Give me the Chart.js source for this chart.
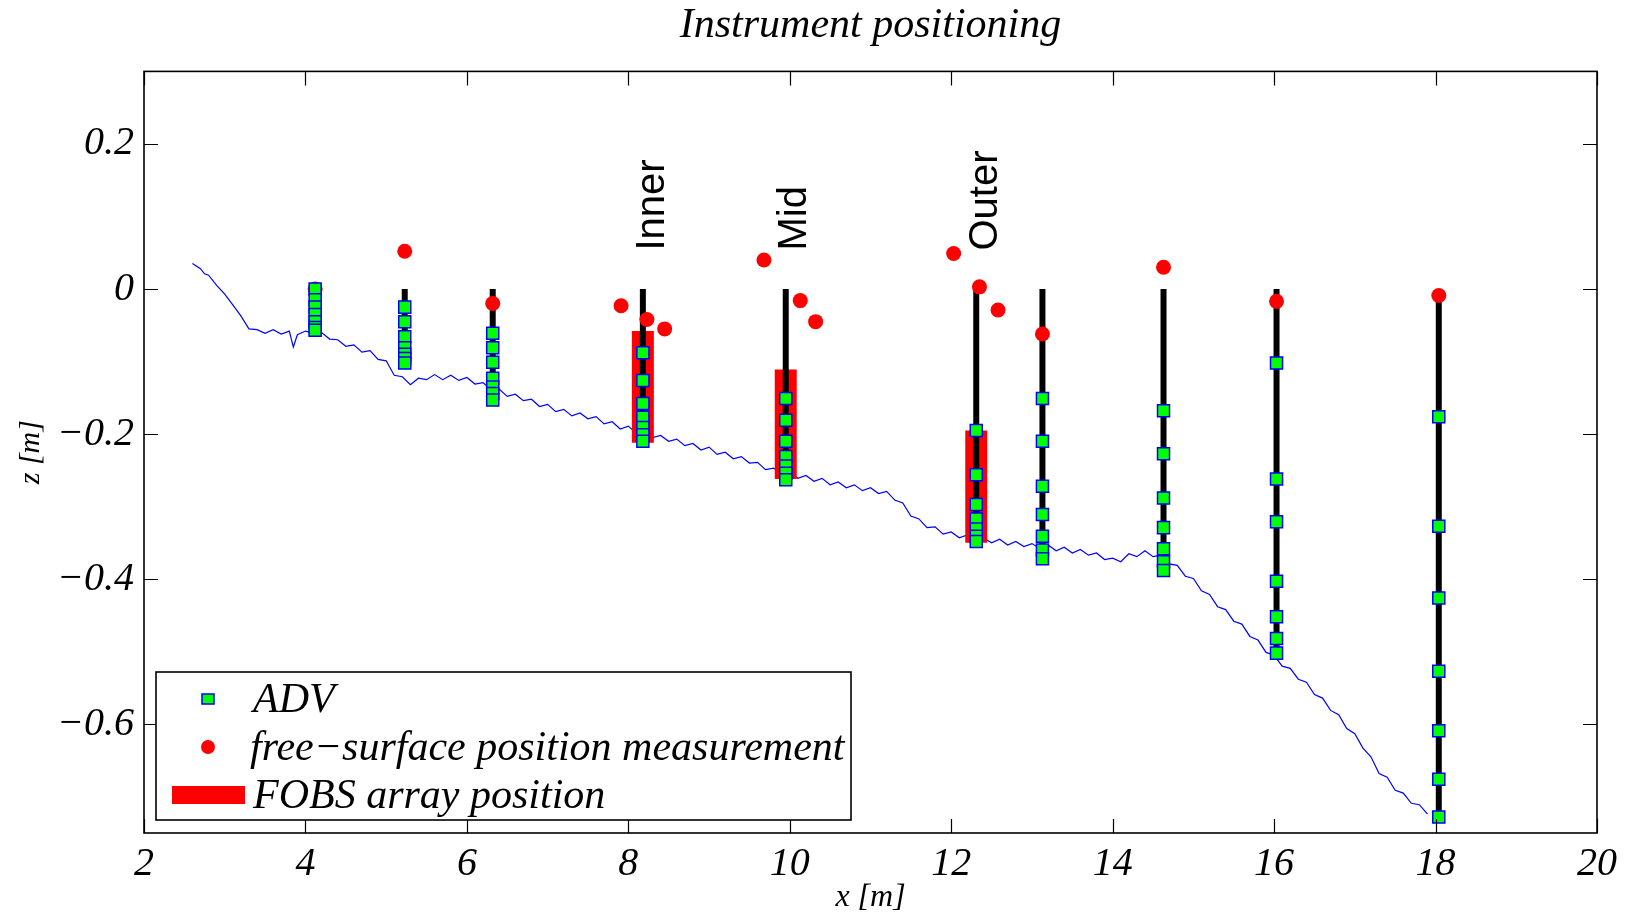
<!DOCTYPE html>
<html>
<head>
<meta charset="utf-8">
<title>Instrument positioning</title>
<script src="https://cdn.jsdelivr.net/npm/chart.js@4.4.1/dist/chart.umd.min.js"></script>
<style>
  html, body { margin: 0; padding: 0; background: #fff; }
  #wrap { width: 1633px; height: 918px; }
</style>
</head>
<body>
<div id="wrap"><canvas id="chart" width="1633" height="918"></canvas></div>
<script>
// Tick labels
const xTicks = [2, 4, 6, 8, 10, 12, 14, 16, 18, 20];
const yTicks = [0.2, 0, -0.2, -0.4, -0.6];

// Instrument stations (x [m]) and ADV heights (z [m]) at each one
const stationX = [4.12, 5.23, 6.32, 8.18, 9.95, 12.31, 13.13, 14.63, 16.03, 18.04];
const advZ = [
    [0.000, -0.015, -0.025, -0.035, -0.045, -0.053, -0.057],
    [-0.025, -0.045, -0.066, -0.081, -0.090, -0.096, -0.102],
    [-0.061, -0.081, -0.101, -0.123, -0.135, -0.144, -0.153],
    [-0.088, -0.126, -0.158, -0.177, -0.191, -0.201, -0.210],
    [-0.151, -0.181, -0.210, -0.231, -0.244, -0.254, -0.263],
    [-0.195, -0.256, -0.297, -0.317, -0.331, -0.341, -0.348],
    [-0.151, -0.210, -0.272, -0.311, -0.341, -0.360, -0.372],
    [-0.168, -0.227, -0.288, -0.329, -0.358, -0.376, -0.388],
    [-0.102, -0.262, -0.321, -0.403, -0.452, -0.482, -0.502],
    [-0.176, -0.327, -0.426, -0.527, -0.609, -0.676, -0.728]
];

// Free-surface position measurements
const surfX = [4.12, 5.23, 6.32, 7.91, 8.23, 8.45, 9.68, 10.13, 10.32, 12.03, 12.35, 12.58, 13.13, 14.63, 16.03, 18.04];
const surfZ = [0.000, 0.052, -0.020, -0.023, -0.042, -0.055, 0.040, -0.016, -0.045, 0.049, 0.003, -0.029, -0.062, 0.030, -0.017, -0.009];

// FOBS arrays
const fobsNames = ['Inner', 'Mid', 'Outer'];
const fobsX = [8.18, 9.95, 12.31];
const fobsTop = [-0.058, -0.111, -0.195];
const fobsBottom = [-0.212, -0.262, -0.350];
const labelX = [8.30, 10.06, 12.43];
const labelZ = 0.053;

// Bed profile
const bedX = [2.60, 2.70, 2.75, 2.80, 2.90, 3.00, 3.10, 3.20, 3.30, 3.40, 3.50, 3.60, 3.70, 3.80, 3.85, 3.90,
    4.00, 4.10, 4.20, 4.30, 4.40, 4.50, 4.60, 4.70, 4.80, 4.90, 5.00, 5.10, 5.20, 5.30, 5.40, 5.50, 5.60, 5.70, 5.80, 5.90,
    6.00, 6.10, 6.20, 6.30, 6.40, 6.50, 6.60, 6.70, 6.80, 6.90, 7.00, 7.10, 7.20, 7.30, 7.40, 7.50, 7.60, 7.70, 7.80, 7.90,
    8.00, 8.10, 8.20, 8.30, 8.40, 8.50, 8.60, 8.70, 8.80, 8.90, 9.00, 9.10, 9.20, 9.30, 9.40, 9.50, 9.60, 9.70, 9.80, 9.90,
    10.00, 10.10, 10.20, 10.30, 10.40, 10.50, 10.60, 10.70, 10.80, 10.90, 11.00, 11.10, 11.20, 11.30, 11.40, 11.50, 11.60, 11.70, 11.80, 11.90,
    12.00, 12.10, 12.20, 12.30, 12.40, 12.50, 12.60, 12.70, 12.80, 12.90, 13.00, 13.10, 13.20, 13.30, 13.40, 13.50, 13.60, 13.70, 13.80, 13.90,
    14.00, 14.10, 14.20, 14.30, 14.40, 14.50, 14.60, 14.70, 14.80, 14.90, 15.00, 15.10, 15.20, 15.30, 15.40, 15.50, 15.60, 15.70, 15.80, 15.90,
    16.00, 16.10, 16.20, 16.30, 16.40, 16.50, 16.60, 16.70, 16.80, 16.90, 17.00, 17.10, 17.20, 17.30, 17.40, 17.50, 17.60, 17.70, 17.80, 17.90];
const bedZ = [0.035, 0.028, 0.021, 0.019, 0.005, -0.007, -0.022, -0.037, -0.055, -0.056, -0.061, -0.056, -0.062, -0.058, -0.080, -0.063,
    -0.058, -0.061, -0.060, -0.069, -0.070, -0.079, -0.077, -0.087, -0.085, -0.097, -0.099, -0.119, -0.121, -0.132, -0.123, -0.125, -0.118, -0.125, -0.119, -0.126,
    -0.122, -0.131, -0.129, -0.139, -0.138, -0.148, -0.145, -0.154, -0.152, -0.162, -0.159, -0.169, -0.166, -0.175, -0.171, -0.179, -0.176, -0.186, -0.183, -0.193,
    -0.189, -0.199, -0.196, -0.205, -0.202, -0.210, -0.207, -0.216, -0.213, -0.222, -0.218, -0.228, -0.225, -0.234, -0.231, -0.240, -0.239, -0.249, -0.247, -0.256,
    -0.253, -0.261, -0.257, -0.265, -0.261, -0.270, -0.266, -0.274, -0.270, -0.278, -0.274, -0.282, -0.279, -0.291, -0.295, -0.313, -0.317, -0.329, -0.328, -0.338,
    -0.335, -0.343, -0.339, -0.347, -0.343, -0.350, -0.345, -0.353, -0.348, -0.355, -0.351, -0.358, -0.353, -0.361, -0.356, -0.364, -0.359, -0.367, -0.364, -0.373,
    -0.371, -0.376, -0.365, -0.369, -0.361, -0.369, -0.367, -0.379, -0.381, -0.396, -0.399, -0.416, -0.421, -0.438, -0.442, -0.458, -0.462, -0.479, -0.484, -0.501,
    -0.505, -0.520, -0.523, -0.538, -0.542, -0.559, -0.564, -0.581, -0.587, -0.606, -0.613, -0.633, -0.645, -0.668, -0.673, -0.691, -0.695, -0.709, -0.711, -0.724];

const serif = '"Liberation Serif", "Times New Roman", serif';

const datasets = [];
datasets.push({
    label: 'bed',
    data: bedX.map((x, i) => ({ x: x, y: bedZ[i] })),
    showLine: true, borderColor: '#0000ff', borderWidth: 1.2, pointRadius: 0, order: 5
});
fobsX.forEach((x, i) => {
    datasets.push({
        label: 'FOBS array position',
        data: [{ x: x, y: fobsTop[i] }, { x: x, y: fobsBottom[i] }],
        showLine: true, borderColor: '#ff0000', borderWidth: 22, borderCapStyle: 'butt', pointRadius: 0, order: 4
    });
});
stationX.forEach((x, i) => {
    const z = advZ[i];
    datasets.push({
        label: 'pole',
        data: [{ x: x, y: 0 }, { x: x, y: z[z.length - 1] }],
        showLine: true, borderColor: '#000000', borderWidth: 6, borderCapStyle: 'butt', pointRadius: 0, order: 3
    });
});
datasets.push({
    label: 'free-surface position measurement',
    data: surfX.map((x, i) => ({ x: x, y: surfZ[i] })),
    pointStyle: 'circle', pointRadius: 7.5, backgroundColor: '#ff0000', borderWidth: 0, order: 2
});
datasets.push({
    label: 'ADV',
    data: stationX.flatMap((x, i) => advZ[i].map(z => ({ x: x, y: z }))),
    pointStyle: 'rect', pointRadius: 8.5, backgroundColor: '#00ff00', borderColor: '#0000ff', borderWidth: 1.5, order: 1
});

function fmtZ(v) {
    if (Math.abs(v) < 1e-9) return '0';
    return (v < 0 ? '\u2212' : '') + Math.abs(v).toFixed(1);
}

// Box, inward ticks, station names and legend
const extras = {
    id: 'extras',
    beforeDraw(chart) {
        const ctx = chart.ctx;
        ctx.save();
        ctx.fillStyle = '#fff';
        ctx.fillRect(0, 0, chart.width, chart.height);
        ctx.restore();
    },
    afterDraw(chart) {
        const ctx = chart.ctx;
        const a = chart.chartArea;
        const xs = chart.scales.x, ys = chart.scales.y;
        const tl = 14;
        ctx.save();
        ctx.strokeStyle = '#000';
        ctx.lineWidth = 1.2;
        ctx.beginPath();
        xTicks.forEach(v => {
            const px = Math.round(xs.getPixelForValue(v)) + 0.5;
            ctx.moveTo(px, a.bottom); ctx.lineTo(px, a.bottom - tl);
            ctx.moveTo(px, a.top); ctx.lineTo(px, a.top + tl);
        });
        yTicks.forEach(v => {
            const py = Math.round(ys.getPixelForValue(v)) + 0.5;
            ctx.moveTo(a.left, py); ctx.lineTo(a.left + tl, py);
            ctx.moveTo(a.right, py); ctx.lineTo(a.right - tl, py);
        });
        ctx.stroke();
        ctx.lineWidth = 1.6;
        ctx.strokeRect(a.left, a.top, a.right - a.left, a.bottom - a.top);

        // station names
        ctx.fillStyle = '#000';
        ctx.font = '40px "Liberation Sans", Arial, sans-serif';
        ctx.textAlign = 'left';
        ctx.textBaseline = 'middle';
        fobsNames.forEach((name, i) => {
            ctx.save();
            ctx.translate(xs.getPixelForValue(labelX[i]), ys.getPixelForValue(labelZ));
            ctx.rotate(-Math.PI / 2);
            ctx.fillText(name, 0, 0);
            ctx.restore();
        });

        // legend
        const lx = a.left + 12, ly = a.bottom - 161, lw = 695, lh = 148;
        ctx.fillStyle = '#fff';
        ctx.fillRect(lx, ly, lw, lh);
        ctx.lineWidth = 1.6;
        ctx.strokeStyle = '#000';
        ctx.strokeRect(lx, ly, lw, lh);
        const rows = [ly + 27, ly + 75, ly + 123];
        const mx = lx + 52, tx = lx + 97;
        ctx.fillStyle = '#00ff00';
        ctx.fillRect(mx - 6, rows[0] - 5, 12, 10);
        ctx.strokeStyle = '#0000ff';
        ctx.lineWidth = 1.5;
        ctx.strokeRect(mx - 6, rows[0] - 5, 12, 10);
        ctx.fillStyle = '#ff0000';
        ctx.beginPath();
        ctx.arc(mx, rows[1], 7, 0, Math.PI * 2);
        ctx.fill();
        ctx.fillRect(lx + 16, rows[2] - 9, 73, 18);
        ctx.fillStyle = '#000';
        ctx.font = 'italic 42px ' + serif;
        ctx.textAlign = 'left';
        ctx.textBaseline = 'middle';
        ctx.fillText('ADV', tx, rows[0] + 2);
        ctx.fillText('free\u2212surface position measurement', tx - 3, rows[1] + 2);
        ctx.fillText('FOBS array position', tx, rows[2] + 2);
        ctx.restore();
    }
};

new Chart(document.getElementById('chart'), {
    type: 'scatter',
    data: { datasets: datasets },
    options: {
        responsive: false,
        animation: false,
        events: [],
        layout: { padding: { left: 0, right: 36, top: 0, bottom: 0 } },
        plugins: {
            legend: { display: false },
            tooltip: { enabled: false },
            title: {
                display: true,
                fullSize: false,
                text: 'Instrument positioning',
                color: '#000',
                font: { family: serif, style: 'italic', weight: 'normal', size: 42 },
                padding: { top: 1, bottom: 20 }
            }
        },
        scales: {
            x: {
                type: 'linear',
                min: 2, max: 20,
                afterBuildTicks: s => { s.ticks = xTicks.map(v => ({ value: v })); },
                afterFit: s => { s.height = 85; },
                grid: { display: false, drawTicks: false },
                border: { display: false },
                ticks: {
                    color: '#000', padding: 7, maxRotation: 0, autoSkip: false,
                    font: { family: serif, style: 'italic', size: 40 },
                    callback: v => String(v)
                },
                title: {
                    display: true, text: 'x [m]', color: '#000',
                    font: { family: serif, style: 'italic', size: 32 },
                    padding: { top: 0, bottom: 1 }
                }
            },
            y: {
                type: 'linear',
                min: -0.75, max: 0.3,
                afterBuildTicks: s => { s.ticks = yTicks.map(v => ({ value: v })); },
                afterFit: s => { s.width = 144; },
                grid: { display: false, drawTicks: false },
                border: { display: false },
                ticks: {
                    color: '#000', padding: 10, autoSkip: false,
                    font: { family: serif, style: 'italic', size: 40 },
                    callback: v => fmtZ(v)
                },
                title: {
                    display: true, text: 'z [m]', color: '#000',
                    font: { family: serif, style: 'italic', size: 30 },
                    padding: { top: 13, bottom: 0 }
                }
            }
        }
    },
    plugins: [extras]
});
</script>
</body>
</html>
